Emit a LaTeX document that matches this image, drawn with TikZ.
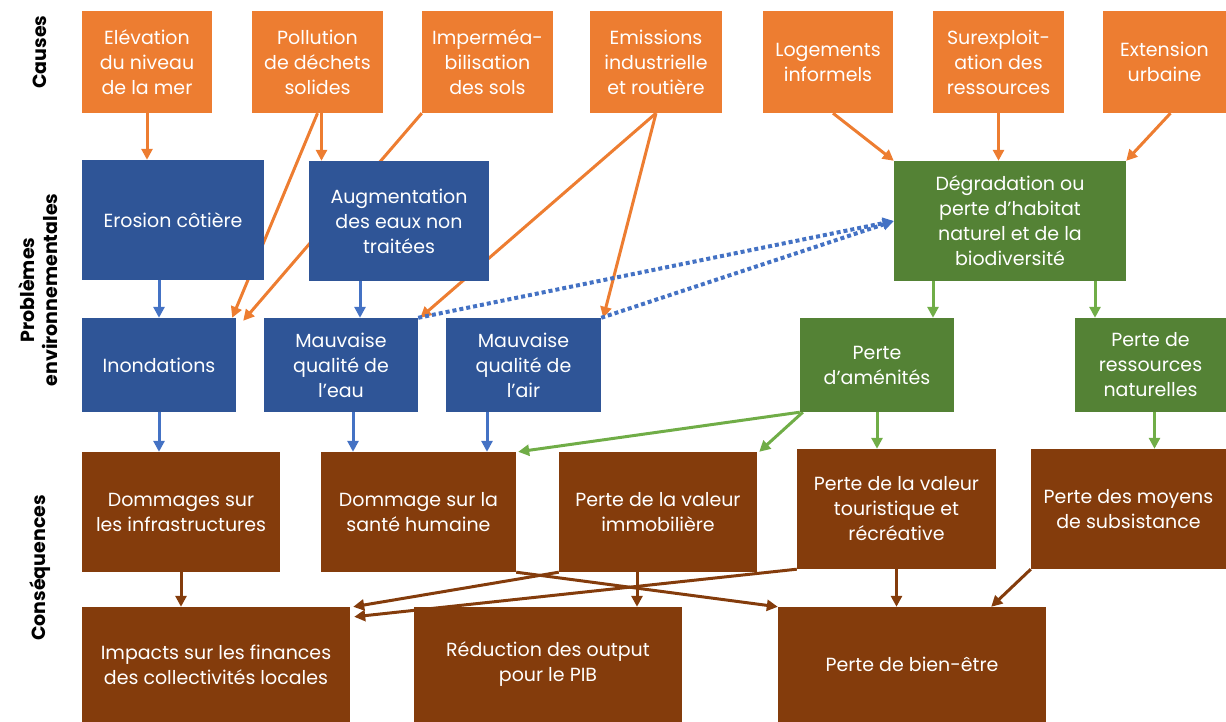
\documentclass[tikz,border=0pt]{standalone}
\usepackage{fontspec}
\setmainfont{Poppins}
\usetikzlibrary{arrows.meta,backgrounds}

\definecolor{orangebox}{HTML}{ED7D31}
\definecolor{bluebox}{HTML}{2F5597}
\definecolor{bluearrow}{HTML}{4472C4}
\definecolor{greenbox}{HTML}{548235}
\definecolor{greenarrow}{HTML}{70AD47}
\definecolor{brownbox}{HTML}{843C0C}

\begin{document}
\begin{tikzpicture}[x=1pt,y=-1pt,>={Triangle[length=11pt,width=11pt]},
  every node/.style={inner sep=0pt,align=center,text=white,
    font=\fontsize{19}{25}\selectfont},
  cause/.style={fill=orangebox,minimum height=102pt},
  probleme/.style={fill=bluebox},
  milieu/.style={fill=greenbox},
  consequence/.style={fill=brownbox},
  rowlabel/.style={rotate=90,text=black,font=\fontsize{19}{23}\selectfont\bfseries},
  fleche/.style={->,line width=3pt}]
  % Configurable parameters
  \def\hrowb{120pt}
  \def\hrowc{94pt}
  \def\hrowd{120pt}
  \def\hrowe{115pt}
  %
  \useasboundingbox (0,0) rectangle (1226,722);
  %
  % Row labels
  \node[rowlabel] (lcauses) at (40,52) {Causes};
  \node[rowlabel] (lprobl) at (38,290) {Problèmes\\environnementales};
  \node[rowlabel] (lconseq) at (40,568) {Conséquences};
  %
  % Causes
  \node[cause,minimum width=130pt] (elev) at (147,62) {Elévation\\du niveau\\de la mer};
  \node[cause,minimum width=131pt] (pollu) at (317.5,62) {Pollution\\de déchets\\solides};
  \node[cause,minimum width=131pt] (imper) at (487.5,62) {Imperméa-\\bilisation\\des sols};
  \node[cause,minimum width=132pt] (emiss) at (656,62) {Emissions\\industrielle\\et routière};
  \node[cause,minimum width=130pt] (loge) at (828,62) {Logements\\informels};
  \node[cause,minimum width=131pt] (surex) at (998.5,62) {Surexploit-\\ation des\\ressources};
  \node[cause,minimum width=123pt] (exten) at (1164.5,62) {Extension\\urbaine};
  %
  % Environmental problems
  \node[probleme,minimum width=182pt,minimum height=\hrowb] (erosion) at (173,220) {Erosion côtière};
  \node[probleme,minimum width=180pt,minimum height=\hrowb] (augm) at (399,221) {Augmentation\\des eaux non\\traitées};
  \node[milieu,minimum width=232pt,minimum height=\hrowb] (degr) at (1010,221) {Dégradation ou\\perte d’habitat\\naturel et de la\\biodiversité};
  \node[probleme,minimum width=154pt,minimum height=\hrowc] (inond) at (159,365) {Inondations};
  \node[probleme,minimum width=154pt,minimum height=\hrowc] (meau) at (341,365) {Mauvaise\\qualité de\\l’eau};
  \node[probleme,minimum width=155pt,minimum height=\hrowc] (mair) at (523.5,365) {Mauvaise\\qualité de\\l’air};
  \node[milieu,minimum width=154pt,minimum height=\hrowc] (amen) at (877,365) {Perte\\d’aménités};
  \node[milieu,minimum width=151pt,minimum height=\hrowc] (resso) at (1150.5,365) {Perte de\\ressources\\naturelles};
  %
  % Consequences
  \node[consequence,minimum width=198pt,minimum height=\hrowd] (infra) at (181,512) {Dommages sur\\les infrastructures};
  \node[consequence,minimum width=195pt,minimum height=\hrowd] (sante) at (418.5,512) {Dommage sur la\\santé humaine};
  \node[consequence,minimum width=198pt,minimum height=\hrowd] (immo) at (658,512) {Perte de la valeur\\immobilière};
  \node[consequence,minimum width=199pt,minimum height=\hrowd] (touri) at (896.5,509) {Perte de la valeur\\touristique et\\récréative};
  \node[consequence,minimum width=195pt,minimum height=\hrowd] (moyen) at (1128.5,509) {Perte des moyens\\de subsistance};
  \node[consequence,minimum width=268pt,minimum height=\hrowe] (financ) at (216,664.5) {Impacts sur les finances\\des collectivités locales};
  \node[consequence,minimum width=268pt,minimum height=\hrowe] (pib) at (548,664.5) {Réduction des output\\pour le PIB};
  \node[consequence,minimum width=268pt,minimum height=\hrowe] (bien) at (912,664.5) {Perte de bien-être};
  %
  \begin{scope}[on background layer]
    % Causes -> problems
    \draw[fleche,orangebox] (elev.south) -- (elev.south |- erosion.north);
    \draw[fleche,orangebox] ([xshift=4pt]pollu.south) -- ([xshift=4pt]pollu.south |- augm.north);
    \draw[fleche,orangebox] (pollu.south) -- ([xshift=-4pt]inond.north east);
    \draw[fleche,orangebox] (imper.south west) -- ([xshift=7pt,yshift=-3pt]inond.north east);
    \draw[fleche,orangebox] (emiss.south) -- ([xshift=2pt]meau.north east);
    \draw[fleche,orangebox] (emiss.south) -- ([xshift=2pt]mair.north east);
    \draw[fleche,orangebox] ([xshift=5pt]loge.south) -- (degr.north west);
    \draw[fleche,orangebox] (surex.south) -- (surex.south |- degr.north);
    \draw[fleche,orangebox] ([xshift=6pt]exten.south) -- (degr.north east);
    %
    % Problems -> problems
    \draw[fleche,bluearrow] (inond.north |- erosion.south) -- (inond.north);
    \draw[fleche,bluearrow] ([xshift=19pt]meau.north |- augm.south) -- ([xshift=19pt]meau.north);
    \draw[fleche,bluearrow,line width=4pt,dash pattern=on 4pt off 3pt]
      (meau.north east) -- (degr.west);
    \draw[fleche,bluearrow,line width=4pt,dash pattern=on 4pt off 3pt]
      (mair.north east) -- (degr.west);
    \draw[fleche,greenarrow] ([xshift=-77pt]degr.south) -- ([xshift=-77pt]degr.south |- amen.north);
    \draw[fleche,greenarrow] ([xshift=85pt]degr.south) -- ([xshift=85pt]degr.south |- resso.north);
    %
    % Problems -> consequences
    \draw[fleche,bluearrow] (inond.south) -- (inond.south |- infra.north);
    \draw[fleche,bluearrow] ([xshift=12pt]meau.south) -- ([xshift=12pt]meau.south |- sante.north);
    \draw[fleche,bluearrow] ([xshift=-36.5pt]mair.south) -- ([xshift=-36.5pt]mair.south |- sante.north);
    \draw[fleche,greenarrow] (amen.south west) -- ([xshift=2pt]sante.north east);
    \draw[fleche,greenarrow] ([xshift=3pt]amen.south west) -- ([xshift=2pt]immo.north east);
    \draw[fleche,greenarrow] (amen.south) -- (amen.south |- touri.north);
    \draw[fleche,greenarrow] ([xshift=4pt]resso.south) -- ([xshift=4pt]resso.south |- moyen.north);
    %
    % Consequences -> consequences
    \draw[fleche,brownbox] (infra.south) -- (infra.south |- financ.north);
    \draw[fleche,brownbox] (sante.south east) -- (bien.north west);
    \draw[fleche,brownbox] (immo.south west) -- ([xshift=3pt]financ.north east);
    \draw[fleche,brownbox] (touri.south west) -- ([xshift=4pt,yshift=-10pt]financ.north east);
    \draw[fleche,brownbox] ([xshift=-21pt]immo.south) -- ([xshift=-21pt]immo.south |- pib.north);
    \draw[fleche,brownbox] (touri.south) -- (touri.south |- bien.north);
    \draw[fleche,brownbox] (moyen.south west) -- ([xshift=-55pt]bien.north east);
  \end{scope}
  %
\end{tikzpicture}
\end{document}
